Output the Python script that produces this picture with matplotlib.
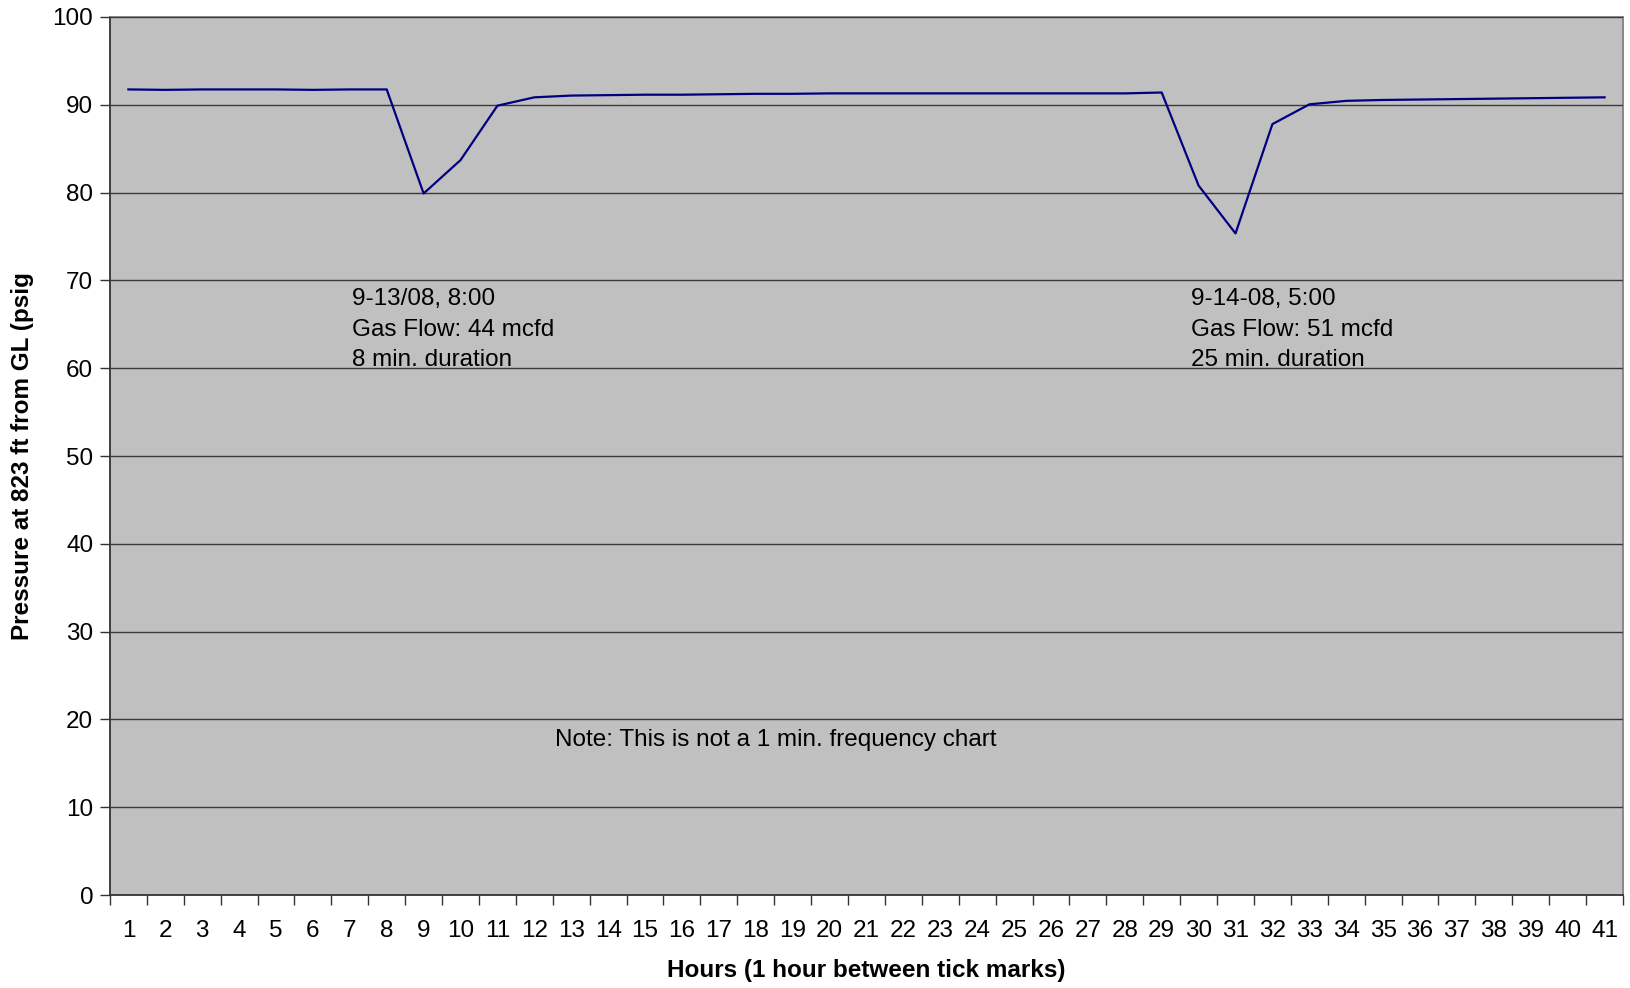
import matplotlib
matplotlib.use("Agg")
import matplotlib.pyplot as plt
from matplotlib.ticker import FixedLocator

hours = list(range(1, 42))
pressure = [91.75, 91.7, 91.75, 91.75, 91.75, 91.7, 91.75, 91.75, 79.9, 83.7,
            89.9, 90.85, 91.05, 91.1, 91.15, 91.15, 91.2, 91.25, 91.25, 91.3,
            91.3, 91.3, 91.3, 91.3, 91.3, 91.3, 91.3, 91.3, 91.4, 80.8,
            75.35, 87.8, 90.05, 90.45, 90.55, 90.6, 90.65, 90.7, 90.75, 90.8, 90.85]
y_ticks = list(range(0, 101, 10))

annot1 = ["9-13/08, 8:00", "Gas Flow: 44 mcfd", "8 min. duration"]
annot2 = ["9-14-08, 5:00", "Gas Flow: 51 mcfd", "25 min. duration"]
note = "Note: This is not a 1 min. frequency chart"

plt.rcParams['font.family'] = ['Liberation Sans', 'DejaVu Sans']
FS = 17.5

fig = plt.figure(figsize=(16.31, 9.88), dpi=100)
ax = fig.add_axes([0.0674, 0.0941, 0.9951 - 0.0674, 0.9828 - 0.0941])
ax.set_facecolor('#C0C0C0')

ax.plot(hours, pressure, color='#000080', lw=1.6, zorder=3)

ax.set_xlim(0.5, 41.5)
ax.set_ylim(0, 100)
ax.set_yticks(y_ticks)
ax.set_yticklabels([str(v) for v in y_ticks], fontsize=FS)
ax.yaxis.grid(True, color='#3a3a3a', lw=1.0)
ax.set_axisbelow(False)

# x ticks: marks at category boundaries, labels at centers
ax.xaxis.set_major_locator(FixedLocator([h - 0.5 for h in hours] + [41.5]))
ax.set_xticklabels([])
ax.set_xticks(hours, minor=True)
ax.set_xticklabels([str(h) for h in hours], minor=True, fontsize=FS)
ax.tick_params(axis='x', which='minor', length=0, pad=18)
ax.tick_params(axis='x', which='major', length=7, width=1, color='#333333', direction='out')
ax.tick_params(axis='y', length=7, width=1, color='#333333', direction='out', pad=5)

for s in ['left', 'bottom']:
    ax.spines[s].set_color('#333333')
    ax.spines[s].set_linewidth(1.3)
for s in ['right', 'top']:
    ax.spines[s].set_color('#808080')
    ax.spines[s].set_linewidth(1.3)

ax.set_xlabel("Hours (1 hour between tick marks)", fontsize=FS, fontweight='bold', labelpad=12)
ax.set_ylabel("Pressure at 823 ft from GL (psig", fontsize=FS, fontweight='bold', labelpad=13)

ys = [67.9, 64.4, 60.9]
for t, y in zip(annot1, ys):
    ax.text(7.06, y, t, fontsize=FS, va='center', ha='left', zorder=4)
for t, y in zip(annot2, ys):
    ax.text(29.8, y, t, fontsize=FS, va='center', ha='left', zorder=4)
ax.text(12.56, 17.6, note, fontsize=FS, va='center', ha='left', zorder=4)

fig.savefig("out.png", dpi=100)
